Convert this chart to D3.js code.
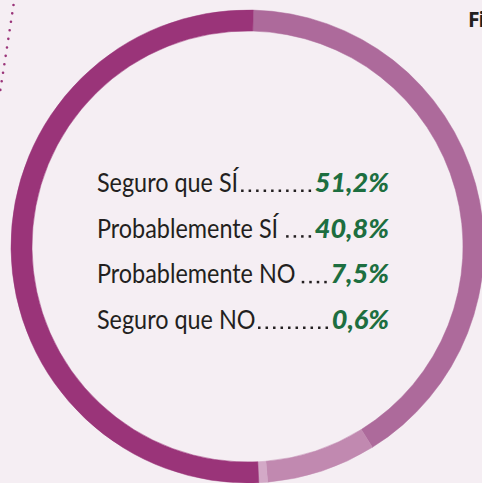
<!DOCTYPE html>
<html>
<head>
<meta charset="utf-8">
<script src="https://cdn.jsdelivr.net/npm/d3@7"></script>
<style>
  html, body { margin: 0; padding: 0; background: #f5eef3; }
  svg { display: block; }
</style>
</head>
<body>
<svg id="chart"></svg>
<script>
// Encuesta: respuestas y porcentajes
const labels = ["Seguro que SÍ", "Probablemente SÍ", "Probablemente NO", "Seguro que NO"];
const values = [51.2, 40.8, 7.5, 0.6];
const valueLabels = ["51,2%", "40,8%", "7,5%", "0,6%"];
const colors = ["#9a3479", "#ad6a9b", "#c189b0", "#d3a9c7"];
// order of the slices going clockwise from the top
const ringOrder = [1, 2, 3, 0];

const width = 482;
const height = 483;

const svg = d3.select("#chart").attr("width", width).attr("height", height);

svg.append("rect").attr("width", width).attr("height", height).attr("fill", "#f5eef3");

// dotted decoration, top-left corner
svg.append("path")
    .attr("d", "M13.5,5 Q7,48 -0.5,95")
    .attr("fill", "none")
    .attr("stroke", "#9a3479")
    .attr("stroke-width", 2.6)
    .attr("stroke-linecap", "round")
    .attr("stroke-dasharray", "0 8.6");

// partial title at the right edge
svg.append("text")
    .attr("x", 468)
    .attr("y", 27)
    .attr("font-family", "'Open Sans', sans-serif")
    .attr("font-weight", 700)
    .attr("font-size", "21px")
    .attr("letter-spacing", "-1px")
    .attr("fill", "#231f20")
    .text("Fi");

// ring
const cx = 247.5, cy = 246.5;
const outerR = 236.5, innerR = 215.5;
const offset = 1.4 * Math.PI / 180;

const pie = d3.pie()
    .sort(null)
    .value(i => values[i])
    .startAngle(offset)
    .endAngle(offset + 2 * Math.PI);

const arc = d3.arc().innerRadius(innerR).outerRadius(outerR);

svg.append("g")
    .attr("transform", `translate(${cx},${cy})`)
    .selectAll("path")
    .data(pie(ringOrder))
    .join("path")
    .attr("d", arc)
    .attr("fill", d => colors[d.data])
    .attr("stroke", d => colors[d.data])
    .attr("stroke-width", 0.5);

// legend lines with leader dots
const y = d3.scalePoint().domain(labels).range([192, 329]);
const labelX = 97;
const valueRight = 389;
const squeeze = 0.9;
const fontFamily = "Lato, 'Noto Sans', sans-serif";

const rows = svg.append("g").selectAll("g")
    .data(labels)
    .join("g");

rows.each(function(label, i) {
    const g = d3.select(this);
    const base = y(label);

    const lab = g.append("text")
        .attr("transform", `translate(${labelX},${base}) scale(${squeeze},1)`)
        .attr("font-family", fontFamily)
        .attr("font-size", "26px")
        .attr("fill", "#231f20")
        .text(label);

    const val = g.append("text")
        .attr("x", valueRight)
        .attr("y", base)
        .attr("text-anchor", "end")
        .attr("font-family", fontFamily)
        .attr("font-weight", 900)
        .attr("font-style", "italic")
        .attr("font-size", "27px")
        .attr("fill", "#1d6e40")
        .text(valueLabels[i]);

    const labEnd = labelX + lab.node().getComputedTextLength() * squeeze;
    const valStart = valueRight - val.node().getComputedTextLength();

    // leader dots
    const step = 7.5;
    const start = labEnd + 5;
    const n = Math.max(0, Math.floor((valStart - 3 - start) / step) + 1);
    const dots = d3.range(n).map(k => valStart - 5 - (n - 1 - k) * step);
    g.selectAll("rect.dot")
        .data(dots)
        .join("rect")
        .attr("class", "dot")
        .attr("x", d => d - 1.2)
        .attr("y", base - 2.5)
        .attr("width", 2.5)
        .attr("height", 2.5)
        .attr("fill", "#231f20");
});
</script>
</body>
</html>
